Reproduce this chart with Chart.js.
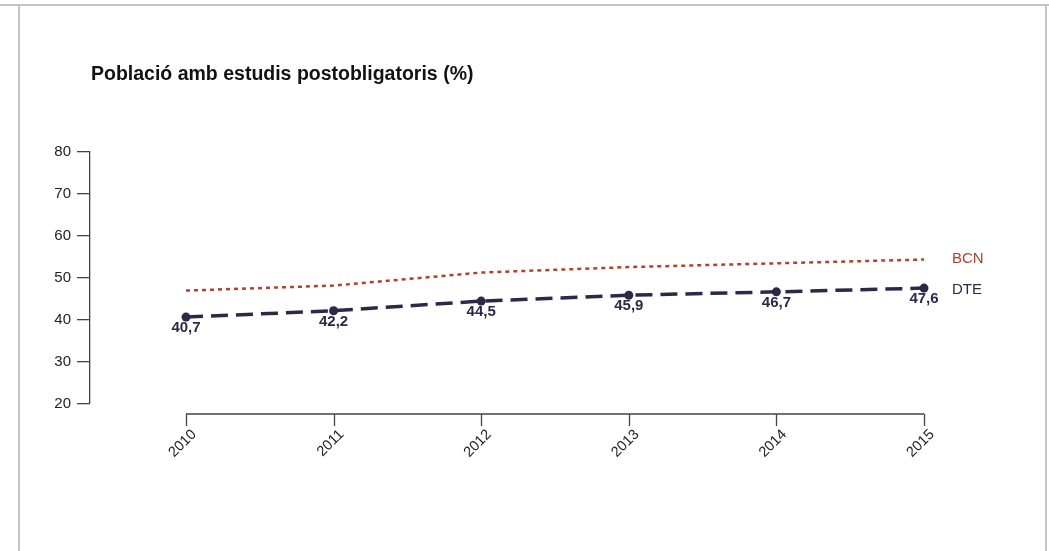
<!DOCTYPE html>
<html>
<head>
<meta charset="utf-8">
<script src="https://cdn.jsdelivr.net/npm/chart.js@4"></script>
<style>
  body { margin: 0; background: #fff; }
  #wrap { position: relative; width: 1049px; height: 551px; overflow: hidden; }
  #wrap canvas { position: absolute; left: 0; top: 0; }
  .topline { position: absolute; left: 0; top: 4px; width: 1049px; height: 2px; background: #c4c4c4; }
  .side { position: absolute; top: 4px; bottom: 0; width: 2px; background: #c4c4c4; }
</style>
</head>
<body>
<div id="wrap">
  <canvas id="chart" width="1049" height="551"></canvas>
  <div class="topline"></div>
  <div class="side" style="left:18px"></div>
  <div class="side" style="left:1045px"></div>
</div>
<script>
// data
var years = ['2010', '2011', '2012', '2013', '2014', '2015'];
var bcn = [47.0, 48.2, 51.3, 52.6, 53.5, 54.4];
var dte = [40.7, 42.2, 44.5, 45.9, 46.7, 47.6];
var yTicks = [20, 30, 40, 50, 60, 70, 80];
var seriesNames = ['BCN', 'DTE'];
var titleText = 'Població amb estudis postobligatoris (%)';

var red = '#b3412c';
var navy = '#2c2848';
var axisColor = '#444';
var fam = '"Liberation Sans", Arial, sans-serif';

function pts(arr) {
  return arr.map(function (v, i) { return { x: i, y: v }; });
}

// detached R-style x axis + texts
var extras = {
  id: 'extras',
  afterDraw: function (chart) {
    var ctx = chart.ctx;
    var xs = chart.scales.x, ys = chart.scales.y;
    var x0 = xs.getPixelForValue(0), x1 = xs.getPixelForValue(years.length - 1);
    var ay = ys.bottom + 10;
    ctx.save();
    ctx.strokeStyle = axisColor;
    ctx.lineWidth = 1.3;
    ctx.beginPath();
    ctx.moveTo(x0, ay);
    ctx.lineTo(x1, ay);
    years.forEach(function (y, i) {
      var px = Math.round(xs.getPixelForValue(i)) + 0.5;
      ctx.moveTo(px, ay);
      ctx.lineTo(px, ay + 12);
    });
    ctx.stroke();

    // title
    ctx.fillStyle = '#111';
    ctx.font = 'bold 19.5px ' + fam;
    ctx.textAlign = 'left';
    ctx.textBaseline = 'alphabetic';
    ctx.fillText(titleText, 91, 80);

    // value labels under DTE points
    var meta = chart.getDatasetMeta(1);
    ctx.font = 'bold 15px ' + fam;
    ctx.fillStyle = navy;
    ctx.textAlign = 'center';
    ctx.textBaseline = 'middle';
    meta.data.forEach(function (p, i) {
      ctx.fillText(dte[i].toFixed(1).replace('.', ','), p.x, p.y + 11);
    });

    // series names
    ctx.font = '15px ' + fam;
    ctx.textAlign = 'left';
    var last = years.length - 1;
    ctx.fillStyle = red;
    ctx.fillText(seriesNames[0], x1 + 28, ys.getPixelForValue(bcn[last]) - 1);
    ctx.fillStyle = navy;
    ctx.fillText(seriesNames[1], x1 + 28, ys.getPixelForValue(dte[last]) + 2);
    ctx.restore();
  }
};

new Chart(document.getElementById('chart'), {
  type: 'line',
  data: {
    datasets: [{
      label: seriesNames[0],
      data: pts(bcn),
      borderColor: red,
      borderWidth: 2.5,
      borderDash: [4, 4],
      pointRadius: 0,
      fill: false
    }, {
      label: seriesNames[1],
      data: pts(dte),
      borderColor: navy,
      backgroundColor: navy,
      borderWidth: 3.5,
      borderDash: [17, 8],
      pointRadius: 4.5,
      pointBorderWidth: 0,
      fill: false
    }]
  },
  options: {
    responsive: false,
    animation: false,
    devicePixelRatio: 1,
    layout: { padding: { top: 152, left: 0, right: 49, bottom: 0 } },
    plugins: {
      legend: { display: false },
      tooltip: { enabled: false }
    },
    scales: {
      x: {
        type: 'linear',
        min: -96 / 147.6,
        max: 5 + 76 / 147.6,
        afterFit: function (s) { s.height = 147; },
        afterBuildTicks: function (s) {
          s.ticks = years.map(function (y, i) { return { value: i }; });
        },
        border: { display: false },
        grid: { display: false },
        ticks: {
          autoSkip: false,
          minRotation: 45,
          maxRotation: 45,
          padding: 14,
          labelOffset: 8,
          color: '#222',
          font: { family: fam, size: 14.5 },
          callback: function (v) { return years[v]; }
        }
      },
      y: {
        min: yTicks[0],
        max: yTicks[yTicks.length - 1],
        afterFit: function (s) { s.width = 90; },
        afterBuildTicks: function (s) {
          s.ticks = yTicks.map(function (v) { return { value: v }; });
        },
        border: { display: true, color: axisColor, width: 1.3 },
        grid: { drawOnChartArea: false, drawTicks: true, tickLength: 13, color: axisColor, lineWidth: 1.3 },
        ticks: {
          padding: 6,
          color: '#222',
          font: { family: fam, size: 15 }
        }
      }
    }
  },
  plugins: [extras]
});
</script>
</body>
</html>
